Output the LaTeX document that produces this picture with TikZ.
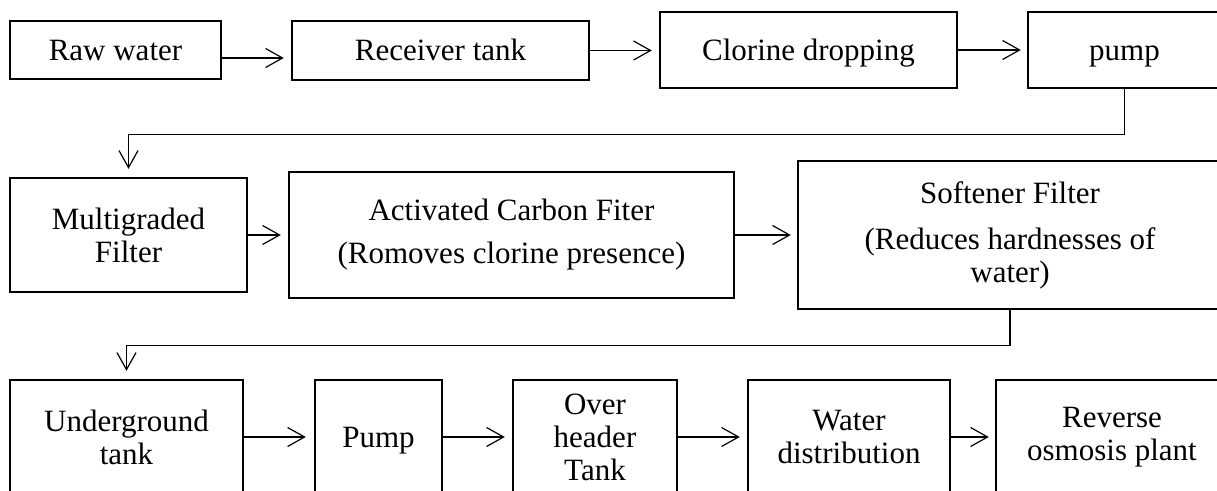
\documentclass[tikz,border=0pt]{standalone}
\usepackage{fontspec}
\setmainfont{Liberation Serif}
\usetikzlibrary{arrows.meta}
\tikzset{
  box/.style={draw, line width=2.4pt, inner sep=0pt, align=center, font=\fontsize{31}{33}\selectfont},
  oneline/.style={text height=21pt, text depth=1pt},
  arr/.style={line width=1.2pt, -{Straight Barb[length=17pt,width=19pt,line width=1.2pt]}},
  conn/.style={line width=1.2pt}
}
\begin{document}
\begin{tikzpicture}[x=1pt,y=-1pt]
\useasboundingbox (0,0) rectangle (1217,490);
\clip (0,0) rectangle (1217,490);
% row 1
\node[box, oneline, minimum width=211pt, minimum height=58pt] (raw) at (115.5,50) {Raw water};
\node[box, oneline, minimum width=297pt, minimum height=59pt] (recv) at (440.5,50.5) {Receiver tank};
\node[box, oneline, minimum width=297pt, minimum height=76pt] (clor) at (808.5,50) {Clorine dropping};
\node[box, oneline, minimum width=193pt, minimum height=76pt] (pumpa) at (1124.5,50) {pump};
% row 2
\node[box, minimum width=237pt, minimum height=114pt] (multi) at (128.5,235) {Multigraded\\Filter};
\node[box, minimum width=445pt, minimum height=126pt] (acf) at (511.5,235) {Activated Carbon Fiter\\[10pt](Romoves clorine presence)};
\node[box, minimum width=424pt, minimum height=148pt] (soft) at (1010,235) {Softener Filter\\[13pt](Reduces hardnesses of\\water)};
% row 3
\node[box, minimum width=233pt, minimum height=114pt] (ug) at (126.5,437) {Underground\\tank};
\node[box, oneline, minimum width=127pt, minimum height=114pt] (pumpb) at (378.5,437) {Pump};
\node[box, minimum width=164pt, minimum height=114pt] (oht) at (595,437) {Over\\header\\Tank};
\node[box, minimum width=202pt, minimum height=114pt] (wd) at (849,437) {Water\\distribution};
\node[box, minimum width=232pt, minimum height=114pt] (ro) at (1112,437) {Reverse\\osmosis plant};
% connectors
\draw[arr, shorten >=7pt] ([yshift=-8pt]raw.east) -- ([yshift=-7.5pt]recv.west);
\draw[arr, shorten >=7pt] (recv.east) -- (clor.west |- recv.east);
\draw[arr, shorten >=6pt] (clor.east) -- (pumpa.west);
\draw[arr, shorten >=8pt] (pumpa.south) -- ++(0,45) -| (multi.north);
\draw[arr, shorten >=7pt] (multi.east) -- (acf.west);
\draw[arr, shorten >=6pt] (acf.east) -- (soft.west);
\draw[arr, shorten >=8pt] (soft.south) -- ++(0,35) -| (ug.north);
\draw[arr, shorten >=8pt] (ug.east) -- (pumpb.west);
\draw[arr, shorten >=7pt] (pumpb.east) -- (oht.west);
\draw[arr, shorten >=7pt] (oht.east) -- (wd.west);
\draw[arr, shorten >=6pt] (wd.east) -- (ro.west);
\end{tikzpicture}
\end{document}
